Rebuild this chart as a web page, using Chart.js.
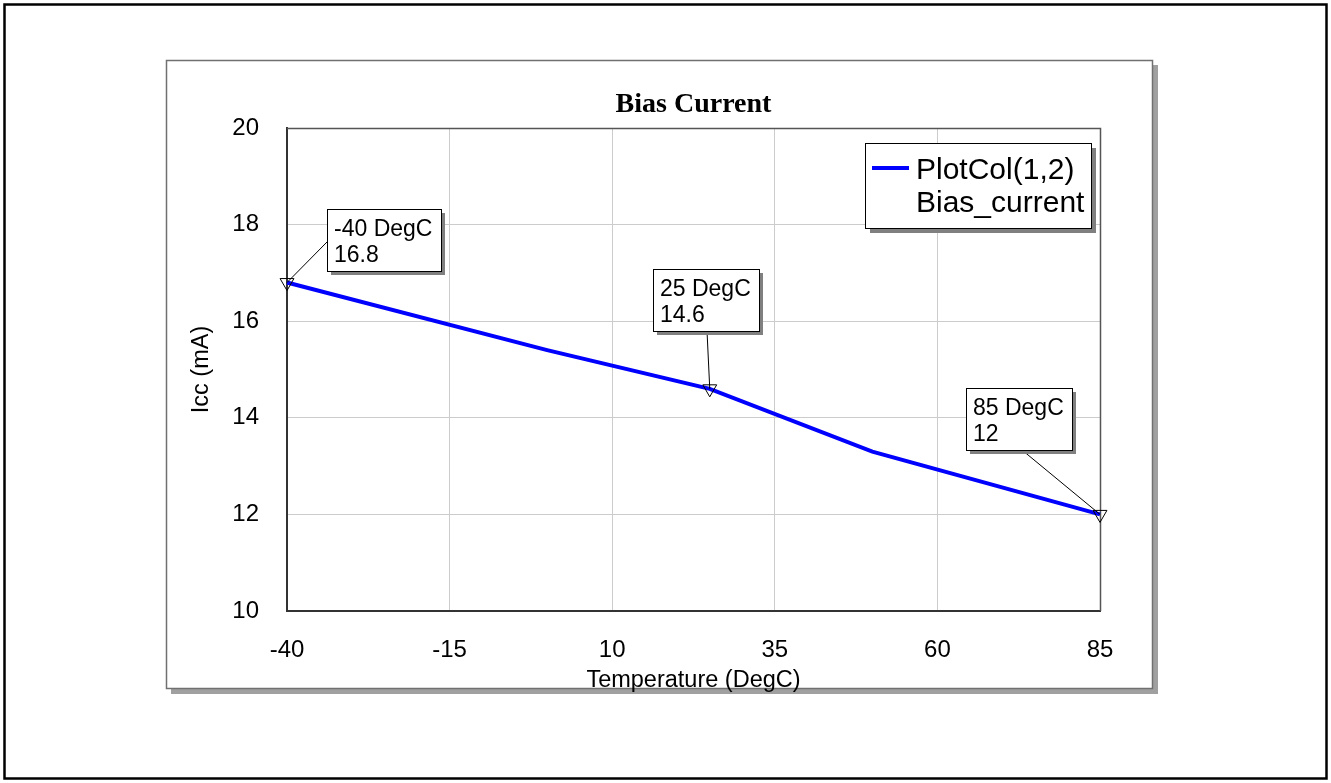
<!DOCTYPE html>
<html><head><meta charset="utf-8">
<script src="https://cdn.jsdelivr.net/npm/chart.js@4"></script>
<style>html,body{margin:0;padding:0;background:#fff;} canvas{display:block;}</style>
</head><body>
<canvas id="c" width="1331" height="783"></canvas>
<script>
// ---- data ----
const temperatures = [-40, 0, 25, 50, 85];
const biasCurrent = [16.8, 15.4, 14.6, 13.3, 12.0];
const markedIndices = [0, 2, 4];
const xTicks = [-40, -15, 10, 35, 60, 85];
const yTicks = [10, 12, 14, 16, 18, 20];
const legendLines = ['PlotCol(1,2)', 'Bias_current'];
const chartTitle = 'Bias Current';
const xTitle = 'Temperature (DegC)';
const yTitle = 'Icc (mA)';
const unitSuffix = ' DegC';

// ---- styles ----
const SANS = '"Liberation Sans", Arial, sans-serif';
const SERIF = '"Liberation Serif", "Times New Roman", serif';
const calloutStyle = {
  0: {dx: 40, dy: -74, ax: 0, ay: 33},
  2: {dx: -57, dy: -120, ax: 54, ay: 62},
  4: {dx: -134, dy: -126, ax: 56, ay: 62}
};

const framePlugin = {
  id: 'frames',
  beforeDraw(chart) {
    const ctx = chart.ctx;
    ctx.save();
    ctx.fillStyle = '#fff';
    ctx.fillRect(0, 0, chart.width, chart.height);
    ctx.strokeStyle = '#000';
    ctx.lineWidth = 2.5;
    ctx.strokeRect(4.5, 4.5, 1322, 774);
    // panel with shadow
    ctx.fillStyle = '#a0a0a0';
    ctx.fillRect(171, 65, 987, 629);
    ctx.fillStyle = '#fff';
    ctx.fillRect(166, 60, 987, 629);
    ctx.strokeStyle = '#707070';
    ctx.lineWidth = 1.5;
    ctx.strokeRect(166.5, 60.5, 986, 628);
    ctx.restore();
  },
  beforeDatasetsDraw(chart) {
    const {ctx, chartArea: a} = chart;
    ctx.save();
    ctx.strokeStyle = '#555';
    ctx.lineWidth = 1.5;
    ctx.beginPath();
    ctx.moveTo(a.left, a.top + 0.5);
    ctx.lineTo(a.right + 0.5, a.top + 0.5);
    ctx.lineTo(a.right + 0.5, a.bottom);
    ctx.stroke();
    ctx.restore();
  },
  afterDatasetsDraw(chart) {
    const {ctx, chartArea: a, scales} = chart;
    const ds = chart.data.datasets[0];
    ctx.save();
    // callouts
    ctx.font = '23px ' + SANS;
    markedIndices.forEach(i => {
      const st = calloutStyle[i];
      const px = scales.x.getPixelForValue(temperatures[i]);
      const py = scales.y.getPixelForValue(biasCurrent[i]);
      const lines = [temperatures[i] + unitSuffix, String(biasCurrent[i])];
      const w = Math.ceil(Math.max(...lines.map(t => ctx.measureText(t).width))) + 15;
      const h = 62;
      const bx = Math.round(px + st.dx), by = Math.round(py + st.dy);
      ctx.strokeStyle = '#000';
      ctx.lineWidth = 1;
      ctx.beginPath();
      ctx.moveTo(bx + st.ax, by + st.ay);
      ctx.lineTo(px, py);
      ctx.stroke();
      ctx.fillStyle = '#808080';
      ctx.fillRect(bx + 4, by + 4, w, h);
      ctx.fillStyle = '#fff';
      ctx.fillRect(bx, by, w, h);
      ctx.strokeRect(bx + 0.5, by + 0.5, w, h);
      ctx.fillStyle = '#000';
      ctx.textBaseline = 'alphabetic';
      ctx.textAlign = 'left';
      ctx.fillText(lines[0], bx + 7, by + 27);
      ctx.fillText(lines[1], bx + 7, by + 53);
    });
    // legend
    ctx.font = '30px ' + SANS;
    const tw = Math.ceil(Math.max(...legendLines.map(t => ctx.measureText(t).width)));
    const lw = 7 + 37 + 7 + tw + 6, lh = 85;
    const lx = Math.round(a.right - 9 - lw), ly = Math.round(a.top + 15);
    ctx.fillStyle = '#808080';
    ctx.fillRect(lx + 5, ly + 5, lw, lh);
    ctx.fillStyle = '#fff';
    ctx.fillRect(lx, ly, lw, lh);
    ctx.strokeStyle = '#000';
    ctx.lineWidth = 1;
    ctx.strokeRect(lx + 0.5, ly + 0.5, lw, lh);
    ctx.strokeStyle = ds.borderColor;
    ctx.lineWidth = 4;
    ctx.beginPath();
    ctx.moveTo(lx + 7, ly + 25);
    ctx.lineTo(lx + 44, ly + 25);
    ctx.stroke();
    ctx.fillStyle = '#000';
    ctx.textBaseline = 'alphabetic';
    ctx.fillText(legendLines[0], lx + 51, ly + 36);
    ctx.fillText(legendLines[1], lx + 51, ly + 69);
    ctx.restore();
  }
};

new Chart(document.getElementById('c'), {
  type: 'line',
  data: {
    datasets: [{
      label: legendLines.join(' '),
      data: temperatures.map((t, i) => ({x: t, y: biasCurrent[i]})),
      borderColor: '#0000ff',
      borderWidth: 4,
      tension: 0,
      fill: false,
      clip: false,
      pointStyle: 'triangle',
      rotation: 180,
      pointRadius: temperatures.map((_, i) => markedIndices.includes(i) ? 8 : 0),
      pointBorderColor: '#000',
      pointBackgroundColor: 'rgba(0,0,0,0)',
      pointBorderWidth: 1
    }]
  },
  options: {
    responsive: false,
    animation: false,
    devicePixelRatio: 1,
    events: [],
    layout: {padding: {left: 0, right: 231, top: 0, bottom: 0}},
    plugins: {
      legend: {display: false},
      tooltip: {enabled: false},
      title: {
        display: true, text: chartTitle, color: '#000', fullSize: false,
        font: {family: SERIF, size: 28, weight: 'bold', lineHeight: 1},
        padding: {top: 91, bottom: 9}
      }
    },
    scales: {
      x: {
        type: 'linear', min: xTicks[0], max: xTicks[xTicks.length - 1],
        afterBuildTicks: s => { s.ticks = xTicks.map(v => ({value: v})); },
        afterFit: s => { s.height = 172; },
        grid: {color: '#cccccc', lineWidth: 1, drawTicks: false},
        border: {display: true, color: '#333', width: 2},
        ticks: {color: '#000', font: {family: SANS, size: 24}, padding: 25, maxRotation: 0, autoSkip: false},
        title: {display: true, text: xTitle, color: '#000', font: {family: SANS, size: 23.5}, padding: {top: 0, bottom: 88}}
      },
      y: {
        type: 'linear', min: yTicks[0], max: yTicks[yTicks.length - 1],
        afterBuildTicks: s => { s.ticks = yTicks.map(v => ({value: v})); },
        afterFit: s => { s.width = 287; },
        grid: {color: '#cccccc', lineWidth: 1, drawTicks: false},
        border: {display: true, color: '#333', width: 2},
        ticks: {color: '#000', font: {family: SANS, size: 24}, padding: 28, autoSkip: false},
        title: {display: true, text: yTitle, color: '#000', font: {family: SANS, size: 23.5}, padding: {top: 187, bottom: 0}}
      }
    }
  },
  plugins: [framePlugin]
});
</script>
</body></html>
